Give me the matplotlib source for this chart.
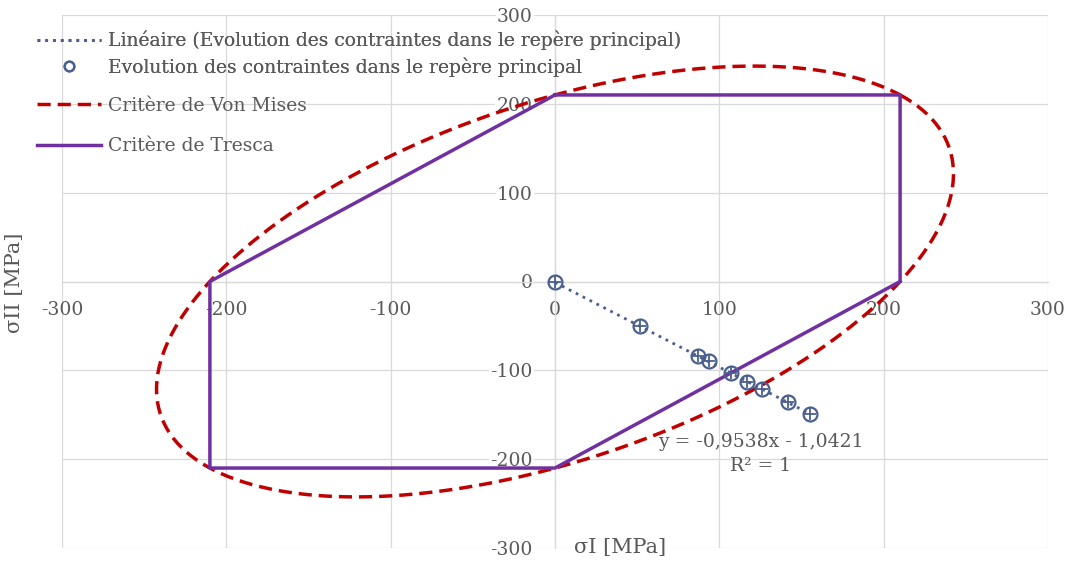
import numpy as np
import matplotlib
matplotlib.use("Agg")
import matplotlib.pyplot as plt
from matplotlib.lines import Line2D

plt.rcParams['font.family'] = ['DejaVu Serif']
plt.rcParams['axes.unicode_minus'] = False

# contraintes principales mesurées (MPa)
sigma_1 = [0, 52, 87, 94, 107, 117, 126, 142, 155]
sigma_2 = [0, -50, -84, -89, -103, -113, -121, -136, -149]

# régression linéaire affichée
slope = -0.9538
intercept = -1.0421

# limite élastique (MPa)
sigma_e = 210

ticks = [-300, -200, -100, 0, 100, 200, 300]

grey = '#595959'
grid_c = '#D9D9D9'
blue = '#4A5F8F'
red = '#C00000'
purple = '#7030A0'

fig = plt.figure(figsize=(10.74, 5.62), dpi=100)
ax = fig.add_axes([62 / 1074, 14 / 562, 986 / 1074, 533 / 562])
ax.set_xlim(-300, 300)
ax.set_ylim(-300, 300)

# grille + axes au centre
ax.set_xticks(ticks)
ax.set_yticks(ticks)
ax.grid(True, color=grid_c, lw=0.9, zorder=0)
for s in ['top', 'right']:
    ax.spines[s].set_visible(False)
ax.spines['left'].set_position('zero')
ax.spines['bottom'].set_position('zero')
for s in ['left', 'bottom']:
    ax.spines[s].set_color(grid_c)
    ax.spines[s].set_linewidth(0.9)
ax.tick_params(length=0, labelsize=13.5, labelcolor=grey)
ax.tick_params(axis='x', pad=14)
ax.tick_params(axis='y', pad=16)
for lab in ax.get_yticklabels():
    lab.set_bbox(dict(facecolor='white', edgecolor='none', pad=1))

# critère de Von Mises : s1^2 - s1*s2 + s2^2 = se^2
t = np.linspace(0, 2 * np.pi, 400)
a = np.sqrt(2) * sigma_e
b = np.sqrt(2.0 / 3.0) * sigma_e
u = a * np.cos(t)
v = b * np.sin(t)
vm_x = (u + v) / np.sqrt(2)
vm_y = (u - v) / np.sqrt(2)
ax.plot(vm_x, vm_y, color=red, lw=2.5, ls=(0, (3.8, 2)), zorder=3)

# critère de Tresca (hexagone)
tr_x = [0, sigma_e, sigma_e, 0, -sigma_e, -sigma_e, 0]
tr_y = [sigma_e, sigma_e, 0, -sigma_e, -sigma_e, 0, sigma_e]
ax.plot(tr_x, tr_y, color=purple, lw=2.5, zorder=3)

# points + courbe de tendance
xr = np.array([min(sigma_1), max(sigma_1)])
ax.plot(xr, slope * xr + intercept, color=blue, lw=2, ls=(0, (1, 1.8)), zorder=4)
ax.plot(sigma_1, sigma_2, ls='none', marker='o', ms=10, mfc='none',
        mec=blue, mew=1.6, zorder=5)
ax.plot(sigma_1, sigma_2, ls='none', marker='+', ms=8, mec=blue, mew=1.3, zorder=5)

ax.text(125, -194, 'y = -0,9538x - 1,0421\nR² = 1', ha='center', va='center',
        fontsize=13.5, color=grey, linespacing=1.4, zorder=6)

# titres des axes
ax.text(0.566, 0.0, 'σI [MPa]', transform=ax.transAxes, ha='center', va='center',
        fontsize=15, color=grey, zorder=6,
        bbox=dict(facecolor='white', edgecolor='none', pad=1))
fig.text(15 / 1074, 1 - 283 / 562, 'σII [MPa]', rotation=90, ha='center',
         va='center', fontsize=15, color=grey)

# légende
h1 = [Line2D([], [], color=blue, lw=2, ls=(0, (1, 1.8))),
      Line2D([], [], ls='none', marker='o', ms=7, mfc='none', mec=blue, mew=1.6)]
l1 = ['Linéaire (Evolution des contraintes dans le repère principal)',
      'Evolution des contraintes dans le repère principal']
h2 = [Line2D([], [], color=red, lw=2.5, ls=(0, (3.8, 2))),
      Line2D([], [], color=purple, lw=2.5)]
l2 = ['Critère de Von Mises', 'Critère de Tresca']

leg1 = fig.legend(h1, l1, loc='upper left', bbox_to_anchor=(37 / 1074, 1 - 31 / 562),
                  frameon=False, fontsize=13.5, labelcolor=grey, handlelength=3.4,
                  handletextpad=0.4, labelspacing=0.35, borderpad=0, borderaxespad=0)
leg2 = fig.legend(h2, l2, loc='upper left', bbox_to_anchor=(37 / 1074, 1 - 97 / 562),
                  frameon=False, fontsize=13.5, labelcolor=grey, handlelength=3.4,
                  handletextpad=0.4, labelspacing=1.2, borderpad=0, borderaxespad=0)
fig.add_artist(leg1)

fig.savefig('out.png', dpi=100)
